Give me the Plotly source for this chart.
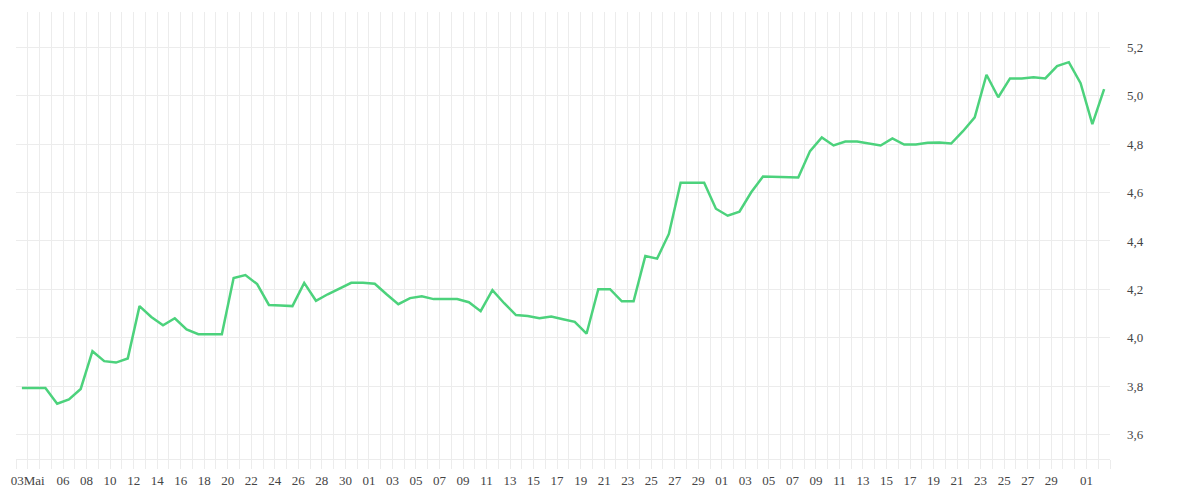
import pandas as pd
import plotly.graph_objects as go

# daily values, 02 May - 02 Aug (one point per day, at midday)
dates = pd.date_range("2022-05-02 12:00", periods=93, freq="D")
values = [
    3.793, 3.793, 3.793, 3.728, 3.746, 3.789, 3.945, 3.904, 3.898, 3.915,
    4.131, 4.086, 4.052, 4.081, 4.035, 4.015, 4.015, 4.015, 4.247, 4.259,
    4.222, 4.136, 4.134, 4.131, 4.227, 4.153, 4.180, 4.203, 4.227, 4.227,
    4.223, 4.180, 4.139, 4.164, 4.172, 4.160, 4.160, 4.160, 4.147, 4.110,
    4.197, 4.143, 4.094, 4.090, 4.081, 4.088, 4.077, 4.066, 4.017, 4.201,
    4.201, 4.151, 4.151, 4.338, 4.327, 4.429, 4.640, 4.640, 4.640, 4.533,
    4.504, 4.521, 4.601, 4.666, 4.665, 4.662, 4.662, 4.771, 4.827, 4.794,
    4.810, 4.810, 4.802, 4.794, 4.823, 4.798, 4.798, 4.805, 4.806, 4.802,
    4.853, 4.910, 5.086, 4.993, 5.071, 5.071, 5.076, 5.071, 5.122, 5.138,
    5.051, 4.882, 5.027,
]

# x tick labels (day of month, month name on the first one)
tick_days = (
    [("05", 3)] + [("05", d) for d in range(6, 31, 2)]
    + [("06", d) for d in range(1, 30, 2)]
    + [("07", d) for d in range(1, 30, 2)]
    + [("08", 1)]
)
tick_vals = [f"2022-{m}-{d:02d}" for m, d in tick_days]
tick_text = ["03Mai"] + [f"{d:02d}" for m, d in tick_days[1:]]

grid = "#ececec"
font = dict(family="Liberation Serif", size=13, color="#444")

fig = go.Figure()
fig.add_trace(go.Scatter(
    x=dates, y=values, mode="lines",
    line=dict(color="#4cd27c", width=2.5),
    hoverinfo="x+y",
))

# the page body adds 8px around the figure, margins take that into account
fig.update_layout(
    width=1200, height=500,
    margin=dict(l=8, r=98, t=4, b=49),
    plot_bgcolor="white", paper_bgcolor="white",
    separators=",.",
    showlegend=False,
    font=font,
)

fig.update_xaxes(
    type="date",
    range=["2022-05-02", "2022-08-03"],
    tickmode="array", tickvals=tick_vals, ticktext=tick_text,
    showgrid=True, gridcolor=grid, gridwidth=1,
    ticks="outside", ticklen=9, tickcolor=grid,
    showline=True, linecolor=grid, linewidth=1,
    minor=dict(dtick=86400000, tick0="2022-05-02", showgrid=True,
               gridcolor=grid, ticks="outside", ticklen=9, tickcolor=grid),
    zeroline=False,
    tickfont=font,
)

fig.update_yaxes(
    side="right",
    range=[3.5, 5.345],
    dtick=0.2, tick0=0, tickformat=".1f",
    showgrid=True, gridcolor=grid, gridwidth=1,
    zeroline=False, showline=False,
    ticks="", ticklabelstandoff=16,
    tickfont=font,
)

fig.write_html("out.html")
